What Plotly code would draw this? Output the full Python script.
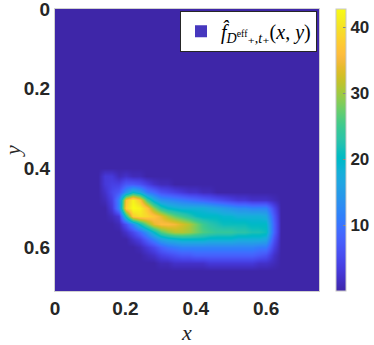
import plotly.graph_objects as go

# ---- data ----
x_vals = [0.12, 0.14, 0.16, 0.18, 0.20, 0.22, 0.24, 0.26, 0.28, 0.30, 0.32, 0.34, 0.36, 0.38,
          0.40, 0.42, 0.44, 0.46, 0.48, 0.50, 0.52, 0.54, 0.56, 0.58, 0.60, 0.62, 0.64]
y_vals = [0.40, 0.42, 0.44, 0.46, 0.48, 0.50, 0.52, 0.54, 0.56, 0.58, 0.60, 0.62, 0.64, 0.66]

row_040 = [0, 0, 0, 0, 0, 0, 0, 0, 0, 0, 0, 0, 0, 0, 0, 0, 0, 0, 0, 0, 0, 0, 0, 0, 0, 0, 0]
row_042 = [0, 3, 3, 1, 2, 1, 1, 0, 0, 0, 0, 0, 0, 0, 0, 0, 0, 0, 0, 0, 0, 0, 0, 0, 0, 0, 0]
row_044 = [0, 3, 4, 4, 7, 7, 6, 4, 2, 1, 1, 0, 0, 0, 0, 0, 0, 0, 0, 0, 0, 0, 0, 0, 0, 0, 0]
row_046 = [0, 2, 5, 7, 14, 20, 17, 11, 9, 6, 5, 4, 3, 2, 2, 1, 1, 0, 0, 0, 0, 0, 0, 0, 0, 0, 0]
row_048 = [0, 1, 4, 12, 36, 42, 37, 25, 18, 14, 13, 12, 11, 10, 9, 8, 7, 6, 5, 4, 3, 3, 2, 2, 2, 1, 0]
row_050 = [0, 0, 3, 12, 38, 43, 42, 37, 29, 23, 20, 19, 18, 18, 18, 18, 17, 16, 15, 14, 13, 13, 12, 12, 12, 5, 0]
row_052 = [0, 0, 1, 3, 22, 38, 40, 39, 37, 34, 30, 27, 25, 23, 21, 20, 20, 20, 19, 19, 18, 18, 18, 18, 17, 7, 0]
row_054 = [0, 0, 0, 1, 6, 13, 21, 28, 34, 36, 36, 35, 33, 31, 28, 25, 23, 22, 21, 21, 21, 21, 20, 20, 20, 8, 0]
row_056 = [0, 0, 0, 0, 2, 5, 9, 14, 20, 26, 29, 31, 31, 30, 28, 26, 25, 24, 24, 24, 23, 23, 22, 22, 21, 8, 0]
row_058 = [0, 0, 0, 0, 0, 2, 4, 8, 12, 16, 18, 19, 20, 20, 20, 20, 19, 19, 19, 19, 18, 18, 18, 18, 17, 6, 0]
row_060 = [0, 0, 0, 0, 0, 0, 1, 3, 5, 8, 10, 11, 12, 12, 12, 12, 12, 12, 12, 12, 12, 12, 12, 11, 11, 4, 0]
row_062 = [0, 0, 0, 0, 0, 0, 0, 1, 2, 4, 5, 6, 7, 7, 8, 8, 8, 8, 8, 8, 8, 8, 8, 7, 6, 2, 0]
row_064 = [0, 0, 0, 0, 0, 0, 0, 0, 0, 1, 1, 2, 2, 2, 2, 2, 3, 3, 3, 3, 3, 3, 3, 2, 2, 1, 0]
row_066 = [0, 0, 0, 0, 0, 0, 0, 0, 0, 0, 0, 0, 0, 0, 0, 0, 0, 0, 0, 0, 0, 0, 0, 0, 0, 0, 0]

z_rows = [row_040, row_042, row_044, row_046, row_048, row_050, row_052,
          row_054, row_056, row_058, row_060, row_062, row_064, row_066]

x_ticks = [0, 0.2, 0.4, 0.6]
y_ticks = [0, 0.2, 0.4, 0.6]
cbar_ticks = [10, 20, 30, 40]
legend_label = ("<i>f\u0302</i><sub><i>D</i><sup>eff</sup>\u208a,<i>t</i>\u208a</sub>"
                "(<i>x</i>, <i>y</i>)")

# ---- style ----
parula = [
    (0.2422, 0.1504, 0.6603), (0.2504, 0.1650, 0.7076), (0.2578, 0.1818, 0.7511), (0.2647, 0.1978, 0.7952),
    (0.2706, 0.2147, 0.8364), (0.2751, 0.2342, 0.8710), (0.2783, 0.2559, 0.8991), (0.2803, 0.2782, 0.9221),
    (0.2813, 0.3006, 0.9414), (0.2810, 0.3228, 0.9579), (0.2795, 0.3447, 0.9717), (0.2760, 0.3667, 0.9829),
    (0.2699, 0.3892, 0.9906), (0.2602, 0.4123, 0.9952), (0.2440, 0.4358, 0.9988), (0.2206, 0.4603, 0.9973),
    (0.1963, 0.4847, 0.9892), (0.1834, 0.5074, 0.9798), (0.1786, 0.5289, 0.9682), (0.1764, 0.5499, 0.9520),
    (0.1687, 0.5703, 0.9359), (0.1540, 0.5902, 0.9218), (0.1460, 0.6091, 0.9079), (0.1380, 0.6276, 0.8973),
    (0.1248, 0.6459, 0.8883), (0.1113, 0.6635, 0.8763), (0.0952, 0.6798, 0.8598), (0.0689, 0.6948, 0.8394),
    (0.0297, 0.7082, 0.8163), (0.0036, 0.7203, 0.7917), (0.0067, 0.7312, 0.7660), (0.0433, 0.7411, 0.7394),
    (0.0964, 0.7500, 0.7120), (0.1408, 0.7584, 0.6842), (0.1717, 0.7670, 0.6554), (0.1938, 0.7758, 0.6251),
    (0.2161, 0.7843, 0.5923), (0.2470, 0.7918, 0.5567), (0.2906, 0.7973, 0.5188), (0.3406, 0.8008, 0.4789),
    (0.3909, 0.8029, 0.4354), (0.4456, 0.8024, 0.3909), (0.5044, 0.7993, 0.3480), (0.5616, 0.7942, 0.3045),
    (0.6174, 0.7876, 0.2612), (0.6720, 0.7793, 0.2227), (0.7242, 0.7698, 0.1910), (0.7738, 0.7598, 0.1646),
    (0.8203, 0.7498, 0.1535), (0.8634, 0.7406, 0.1596), (0.9035, 0.7330, 0.1774), (0.9393, 0.7288, 0.2100),
    (0.9728, 0.7298, 0.2394), (0.9956, 0.7434, 0.2371), (0.9970, 0.7659, 0.2199), (0.9952, 0.7893, 0.2028),
    (0.9892, 0.8136, 0.1885), (0.9786, 0.8386, 0.1766), (0.9676, 0.8639, 0.1643), (0.9610, 0.8890, 0.1537),
    (0.9597, 0.9135, 0.1423), (0.9628, 0.9373, 0.1265), (0.9691, 0.9606, 0.1064), (0.9769, 0.9839, 0.0805),
]
n = len(parula)
colorscale = [[i / (n - 1), "rgb(%d,%d,%d)" % tuple(round(c * 255) for c in col)] for i, col in enumerate(parula)]
bg = colorscale[0][1]
ink = "#262626"
tick_font = dict(family="Liberation Sans, Arial, sans-serif", size=19, color=ink, weight="bold")
serif = "Liberation Serif, DejaVu Serif, serif"

fig = go.Figure()
fig.add_trace(go.Heatmap(
    x=x_vals, y=y_vals, z=z_rows,
    zmin=0, zmax=42.8, zsmooth="best",
    colorscale=colorscale, showscale=True, showlegend=False,
    colorbar=dict(
        x=1.064, xanchor="left", xref="paper", y=0.5, yanchor="middle",
        len=1.0, lenmode="fraction", thickness=10, xpad=0, ypad=0,
        outlinewidth=1, outlinecolor="#c8c8c8",
        tickvals=cbar_ticks, ticks="inside", ticklen=3, tickcolor="#888888",
        tickfont=dict(family="Liberation Sans, Arial, sans-serif", size=17, color=ink, weight="bold"),
    ),
    hoverinfo="skip",
))
fig.add_trace(go.Bar(
    x=[None], y=[None], name=legend_label,
    marker=dict(color="rgb(70,55,190)", line=dict(width=0)),
    showlegend=True,
))

fig.update_layout(
    width=374, height=345,
    margin=dict(l=55, r=55, t=9, b=54, autoexpand=False),
    paper_bgcolor="white", plot_bgcolor=bg,
    showlegend=True,
    legend=dict(
        x=0.4735, y=0.994, xanchor="left", yanchor="top",
        bgcolor="white", bordercolor=ink, borderwidth=1,
        font=dict(family=serif, size=20, color="black"),
        itemwidth=30, tracegroupgap=0,
    ),
    xaxis=dict(
        range=[0, 0.75], tickvals=x_ticks, showgrid=False, zeroline=False,
        showline=True, linecolor="#d0d0d0", linewidth=1, mirror=True,
        ticks="", tickfont=tick_font, automargin=True, ticklabeloverflow="allow",
        title=dict(text="<i>x</i>", font=dict(family=serif, size=22, color=ink), standoff=10),
    ),
    yaxis=dict(
        range=[0.71, 0], tickvals=y_ticks, showgrid=False, zeroline=False,
        showline=True, linecolor="#d0d0d0", linewidth=1, mirror=True,
        ticks="", tickfont=tick_font, automargin=True, ticklabeloverflow="allow",
        title=dict(text="<i>y</i>", font=dict(family=serif, size=22, color=ink), standoff=12),
    ),
)

fig.write_html("out.html", config={"displayModeBar": False},
               post_script="document.body.style.margin='0px';")
